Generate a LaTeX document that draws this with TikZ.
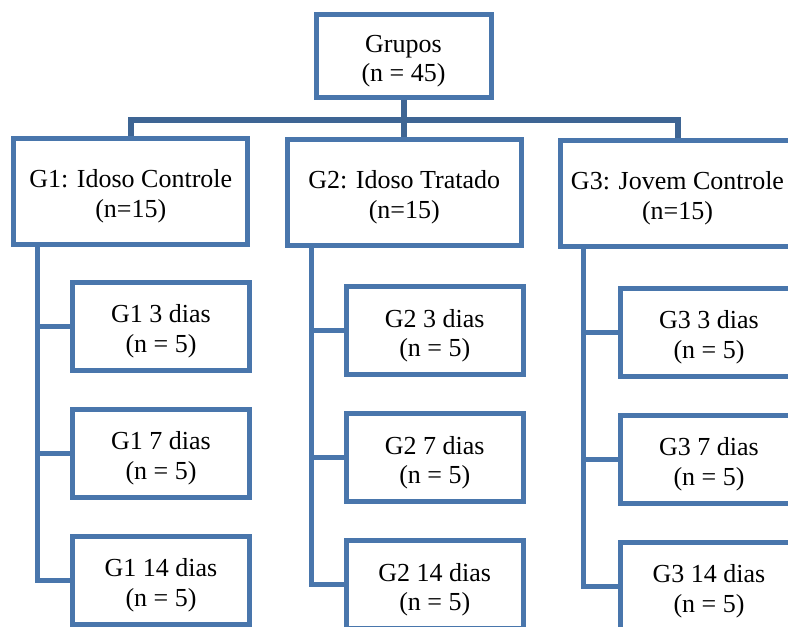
\documentclass[tikz,border=0pt]{standalone}
\usepackage{fontspec}
\setmainfont{Liberation Serif}
\usetikzlibrary{positioning}
\definecolor{boxblue}{RGB}{73,118,172}
\definecolor{linkblue}{RGB}{62,101,148}

\begin{document}
\begin{tikzpicture}[
  x=1pt, y=-1pt,
  node distance=39pt,
  root/.style={draw=boxblue, line width=5pt, align=center, outer sep=0pt,
    inner sep=0pt, font=\fontsize{26}{29.5}\selectfont,
    text height=52pt, text depth=0pt,
    minimum width=175pt, minimum height=82.5pt},
  grp/.style={root, minimum width=234pt, minimum height=106pt},
  sub/.style={root, minimum width=177.5pt, minimum height=88pt},
  conn/.style={draw=linkblue, line width=6pt, shorten <=2.5pt, shorten >=2.5pt},
  link/.style={draw=boxblue, line width=5pt}
]
\useasboundingbox (0,0) rectangle (788,627);
\clip (0,0) rectangle (788,627);

% levels
\node[root] (top) at (403.5,55.75) {Grupos\\(n = 45)};
\node[grp] (g1) at (130.75,191.25) {G1: Idoso Controle\\(n=15)};
\node[grp] (g2) at (404.25,192.25) {G2: Idoso Tratado\\(n=15)};
\node[grp] (g3) at (677.5,193) {G3: Jovem Controle\\(n=15)};

\node[sub] (g1a) at (161,326) {G1 3 dias\\(n = 5)};
\node[sub, below=of g1a] (g1b) {G1 7 dias\\(n = 5)};
\node[sub, below=of g1b] (g1c) {G1 14 dias\\(n = 5)};
\node[sub] (g2a) at (434.75,330.75) {G2 3 dias\\(n = 5)};
\node[sub, below=of g2a] (g2b) {G2 7 dias\\(n = 5)};
\node[sub, below=of g2b] (g2c) {G2 14 dias\\(n = 5)};
\node[sub] (g3a) at (709,332.25) {G3 3 dias\\(n = 5)};
\node[sub, below=of g3a] (g3b) {G3 7 dias\\(n = 5)};
\node[sub, below=of g3b] (g3c) {G3 14 dias\\(n = 5)};

% connectors
\draw[conn] (top.south) -- (top.south |- g2.north);
\draw[conn] (g1.north) -- ++(0,-18) -| (g3.north);
\foreach \g/\dx in {g1/23.5,g2/24.5,g3/22.5} {
  \coordinate (\g s) at ([xshift=\dx pt]\g.south west);
  \draw[link, shorten <=2.5pt, shorten >=2.5pt] (\g s) |- (\g c.west);
  \draw[link, shorten >=2.5pt] (\g s |- \g a.west) -- (\g a.west);
  \draw[link, shorten >=2.5pt] (\g s |- \g b.west) -- (\g b.west);
}
\end{tikzpicture}
\end{document}
